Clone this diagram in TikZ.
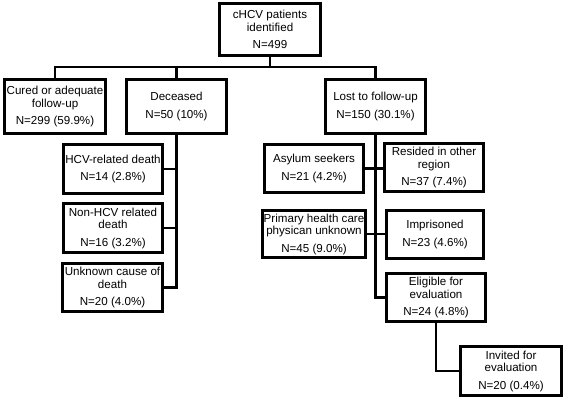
\documentclass[tikz,border=0pt]{standalone}
\usepackage{fontspec}
\setmainfont{Liberation Sans}
\usetikzlibrary{shadows}
\begin{document}
\begin{tikzpicture}[x=1pt,y=-1pt,
  box/.style={draw=black, line width=3pt, fill=white, align=center,
    minimum width=#1, inner sep=1pt,
    font=\fontsize{11.6}{12.5}\selectfont,
    drop shadow={shadow xshift=1.2pt, shadow yshift=-1.2pt, fill=black!40, opacity=0.5}},
  box/.default=101pt,
  link/.style={draw=black, line width=2.5pt}]
\useasboundingbox (0,0) rectangle (565,404);
\fill[white] (0,0) rectangle (565,404);

\node[box, minimum height=52pt] (top) at (270,29.5) {cHCV patients\\identified\\[5pt]N=499};
\node[box, minimum height=54pt] (cured) at (55,106.5) {Cured or adequate\\follow-up\\[5pt]N=299 (59.9\%)};
\node[box=100pt, minimum height=54pt] (dec) at (176.5,106.5) {Deceased\\[5pt]N=50 (10\%)};
\node[box=100pt, minimum height=54pt] (lost) at (375.5,106.5) {Lost to follow-up\\[5pt]N=150 (30.1\%)};

\node[box=99pt, minimum height=49pt] (hcv) at (113,169) {HCV-related death\\[5pt]N=14 (2.8\%)};
\node[box=99pt, minimum height=49pt] (nonhcv) at (113,228) {Non-HCV related\\death\\[5pt]N=16 (3.2\%)};
\node[box=100pt, minimum height=48pt] (unk) at (112.5,287.5) {Unknown cause of\\death\\[5pt]N=20 (4.0\%)};

\node[box=99pt, minimum height=48pt] (asy) at (314,168.5) {Asylum seekers\\[5pt]N=21 (4.2\%)};
\node[box=99pt, minimum height=48pt] (res) at (434,167.5) {Resided in other\\region\\[5pt]N=37 (7.4\%)};
\node[box=99pt, minimum height=47pt] (prim) at (314,234) {Primary health care\\physican unknown\\[5pt]N=45 (9.0\%)};
\node[box=97pt, minimum height=48pt] (imp) at (435,234.5) {Imprisoned\\[5pt]N=23 (4.6\%)};
\node[box=99pt, minimum height=48pt] (eli) at (436,297.5) {Eligible for\\evaluation\\[5pt]N=24 (4.8\%)};
\node[box=101pt, minimum height=49pt] (inv) at (511,371) {Invited for\\evaluation\\[5pt]N=20 (0.4\%)};

\coordinate (bus) at (0,67);
\draw[link] (top.south) |- (bus -| cured.north) -- (cured.north);
\draw[link] (top.south) |- (bus -| lost.north) -- (lost.north);
\draw[link] (dec.north) -- (bus -| dec.north);

\draw[link] (dec.south) |- (unk.east);
\draw[link] (hcv.east) -- (hcv.east -| dec.south);
\draw[link] (nonhcv.east) -- (nonhcv.east -| dec.south);

\draw[link] (lost.south) |- (eli.west);
\draw[link] (asy.east) -- (asy.east -| res.west);
\draw[link] (prim.east) -- (prim.east -| imp.west);
\draw[link] (eli.south) |- (inv.west);
\end{tikzpicture}
\end{document}
